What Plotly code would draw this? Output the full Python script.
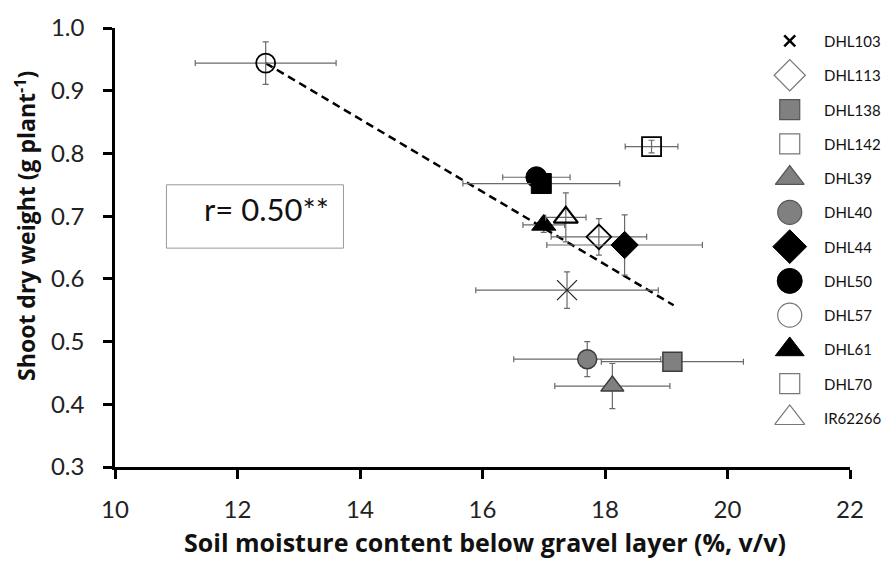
import plotly.graph_objects as go

# ---------------- data ----------------
genotypes = ["DHL103", "DHL113", "DHL138", "DHL142", "DHL39", "DHL40",
             "DHL44", "DHL50", "DHL57", "DHL61", "DHL70", "IR62266"]
soil_moisture = [17.38, 17.90, 19.10, 18.76, 18.12, 17.71,
                 18.32, 16.88, 12.46, 17.00, 16.96, 17.36]
soil_moisture_err = [1.49, 0.78, 1.16, 0.43, 0.94, 1.20,
                     1.27, 0.55, 1.15, 0.34, 1.28, 0.33]
shoot_dw = [0.582, 0.667, 0.468, 0.811, 0.429, 0.472,
            0.654, 0.762, 0.944, 0.686, 0.752, 0.698]
shoot_dw_err = [0.029, 0.029, 0.010, 0.010, 0.036, 0.028,
                0.048, 0.010, 0.034, 0.012, 0.010, 0.039]

trend_x = [12.46, 19.12]
trend_y = [0.944, 0.558]
r_label = "r= 0.50**"
x_title = "<b>Soil moisture content below gravel layer (%, v/v)</b>"
y_title = "<b>Shoot dry weight (g plant<sup>-1</sup>)</b>"

x_ticks = [10, 12, 14, 16, 18, 20, 22]
y_ticks = [0.3, 0.4, 0.5, 0.6, 0.7, 0.8, 0.9, 1.0]

# ---------------- styles ----------------
GRAY = "#808080"
GRAY_LINE = "#3c3c3c"
plot_symbol = ["x-thin", "diamond-open", "square", "square-open", "triangle-up", "circle",
               "diamond", "circle", "circle-open", "triangle-up", "square", "triangle-up-open"]
plot_fill = ["black", "black", GRAY, "black", GRAY, GRAY,
             "black", "black", "black", "black", "black", "black"]
plot_line = ["#222", "#222", GRAY_LINE, "#222", GRAY_LINE, GRAY_LINE,
             "black", "black", "#222", "black", "black", "#222"]
plot_size = [20, 19, 19, 19, 20, 19, 21, 21, 19, 21, 20, 21]
plot_lw = [1.2, 1.8, 1.5, 1.8, 1.5, 1.5, 1, 1, 1.8, 1, 1, 2.2]

leg_symbol = ["x-thin", "diamond-open", "square", "square-open", "triangle-up", "circle",
              "diamond", "circle", "circle-open", "triangle-up", "square-open", "triangle-up-open"]
leg_fill = ["black", "#777", GRAY, "#777", GRAY, GRAY,
            "black", "black", "#777", "black", "#777", "#777"]
leg_line = ["black", "#777", "#555", "#777", "#555", "#555",
            "black", "black", "#777", "black", "#777", "#777"]
leg_size = [11, 24, 20, 20, 25, 24, 26, 25, 24, 25, 20, 26]
leg_lw = [2.5, 1.2, 1.2, 1.2, 1.2, 1.2, 1, 1, 1.2, 1, 1.2, 1.2]

FONT = "Lato"
TITLE_FONT = "Open Sans"

fig = go.Figure()

# trend line
fig.add_trace(go.Scatter(
    x=trend_x, y=trend_y, mode="lines",
    line=dict(color="black", width=2.5, dash="8px,5px"),
    showlegend=False, hoverinfo="skip"))

# data points with error bars
for i, g in enumerate(genotypes):
    fig.add_trace(go.Scatter(
        x=[soil_moisture[i]], y=[shoot_dw[i]], mode="markers", name=g,
        marker=dict(symbol=plot_symbol[i], size=plot_size[i], color=plot_fill[i], opacity=1,
                    line=dict(color=plot_line[i], width=plot_lw[i])),
        error_x=dict(type="data", array=[soil_moisture_err[i]], color="#6a6a6a",
                     thickness=1.2, width=3),
        error_y=dict(type="data", array=[shoot_dw_err[i]], color="#6a6a6a",
                     thickness=1.2, width=3),
        showlegend=False))

# manual legend (on overlay axes)
leg_idx = list(range(len(genotypes)))
fig.add_trace(go.Scatter(
    x=[0.918] * len(genotypes), y=leg_idx, mode="markers",
    marker=dict(symbol=leg_symbol, size=leg_size, color=leg_fill, opacity=1,
                line=dict(color=leg_line, width=leg_lw)),
    xaxis="x2", yaxis="y2", showlegend=False, hoverinfo="skip", cliponaxis=False))

for i, g in enumerate(genotypes):
    fig.add_annotation(text=g, x=0.962, y=leg_idx[i], xref="paper", yref="y2",
                       xanchor="left", yanchor="middle", showarrow=False,
                       font=dict(family=FONT, size=15, color="#111"))

# r box
fig.add_shape(type="rect", x0=10.84, x1=13.73, y0=0.649, y1=0.750,
              xref="x", yref="y", line=dict(color="#9a9a9a", width=1))
fig.add_annotation(text=r_label, x=13.52, y=0.712, xref="x", yref="y",
                   xanchor="right", yanchor="middle", showarrow=False,
                   font=dict(family=FONT, size=31, color="#111"))

# axis titles
fig.add_annotation(text=x_title, x=0.503, y=-0.215, xref="paper", yref="paper",
                   xanchor="center", yanchor="bottom", showarrow=False,
                   font=dict(family=TITLE_FONT, size=25, color="#111"))
fig.add_annotation(text=y_title, x=-0.122, y=0.55, xref="paper", yref="paper",
                   xanchor="center", yanchor="middle", showarrow=False, textangle=-90,
                   font=dict(family=TITLE_FONT, size=23, color="#111"))

fig.update_layout(
    width=887, height=563,
    margin=dict(l=115, r=37, t=28, b=96),
    paper_bgcolor="white", plot_bgcolor="white",
    font=dict(family=FONT, color="#222"),
    xaxis=dict(range=[10, 22], tickvals=x_ticks, showline=True, linecolor="black",
               linewidth=2.5, ticks="outside", ticklen=9, tickwidth=2.5, tickcolor="black",
               showgrid=False, zeroline=False, tickfont=dict(size=24, family=FONT, color="#222"),
               ticklabelstandoff=10),
    yaxis=dict(range=[0.3, 1.0], tickvals=y_ticks, tickformat=".1f", showline=True,
               linecolor="black", linewidth=2.5, ticks="outside", ticklen=9, tickwidth=2.5,
               tickcolor="black", showgrid=False, zeroline=False,
               tickfont=dict(size=24, family=FONT, color="#222"), ticklabelstandoff=14),
    xaxis2=dict(overlaying="x", range=[0, 1], visible=False, domain=[0, 1]),
    yaxis2=dict(overlaying="y", range=[12.43, -0.379], visible=False),
    showlegend=False,
)

fig.write_html("out.html")
